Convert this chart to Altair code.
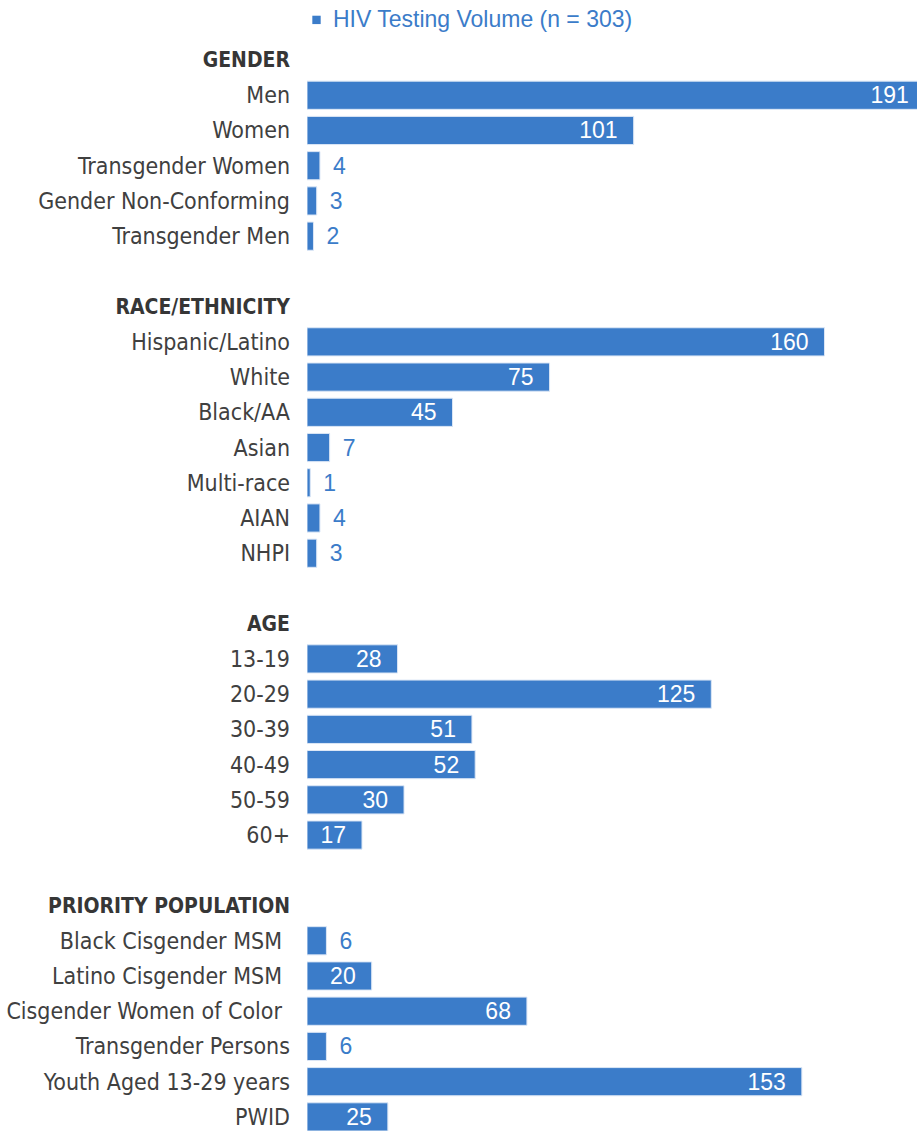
import altair as alt
import pandas as pd

# ---- data ----
gender_labels = ["Men", "Women", "Transgender Women", "Gender Non-Conforming", "Transgender Men"]
gender_values = [191, 101, 4, 3, 2]
race_labels = ["Hispanic/Latino", "White", "Black/AA", "Asian", "Multi-race", "AIAN", "NHPI"]
race_values = [160, 75, 45, 7, 1, 4, 3]
age_labels = ["13-19", "20-29", "30-39", "40-49", "50-59", "60+"]
age_values = [28, 125, 51, 52, 30, 17]
prio_labels = ["Black Cisgender MSM\u00a0", "Latino Cisgender MSM\u00a0",
               "Cisgender Women of Color\u00a0", "Transgender Persons",
               "Youth Aged 13-29 years", "PWID"]
prio_values = [6, 20, 68, 6, 153, 25]
section_headers = ["GENDER", "RACE/ETHNICITY", "AGE", "PRIORITY POPULATION"]
series_name = "HIV Testing Volume (n = 303)"

sections = [
    (section_headers[0], gender_labels, gender_values),
    (section_headers[1], race_labels, race_values),
    (section_headers[2], age_labels, age_values),
    (section_headers[3], prio_labels, prio_values),
]

rows = []
for si, (head, labs, vals) in enumerate(sections):
    rows.append({"label": head, "value": None, "kind": "header"})
    for l, v in zip(labs, vals):
        rows.append({"label": l, "value": v, "kind": "item"})
    if si < len(sections) - 1:
        rows.append({"label": "", "value": None, "kind": "blank"})
for i, r in enumerate(rows):
    r["row"] = f"r{i:02d}"
    r["series"] = series_name
df = pd.DataFrame(rows)
order = list(df["row"])

BLUE = "#3b7cc9"
GRAY = "#404040"
STEP = 35.23
N = len(order)
LABEL_FONT = "Liberation Sans Narrow, DejaVu Sans Condensed, Roboto"
NBSP = "\u00a0"

y_enc = alt.Y("row:N", sort=order, axis=None,
              scale=alt.Scale(domain=order, paddingInner=0.2, paddingOuter=0.1))
x_scale = alt.Scale(domain=[0, 188.6], nice=False, zero=True)

base = alt.Chart(df)

bars = base.transform_filter("datum.kind == 'item'").mark_bar(
    clip=True, stroke="#dce7f6", strokeWidth=1
).encode(
    x=alt.X("value:Q", scale=x_scale, axis=None),
    y=y_enc,
    color=alt.Color("series:N", scale=alt.Scale(range=[BLUE]),
                    legend=alt.Legend(orient="none", legendX=-2, legendY=-34,
                                      title=None, symbolType="square",
                                      symbolSize=70, symbolStrokeWidth=0,
                                      labelFont="Liberation Sans",
                                      labelFontSize=23, labelColor=BLUE,
                                      labelOffset=5, labelLimit=400)),
)

inside = base.transform_filter("datum.kind == 'item' && datum.value >= 10").mark_text(
    align="right", baseline="middle", dx=-16, dy=1, color="white",
    font="Liberation Sans", fontSize=23
).encode(x=alt.X("value:Q", scale=x_scale), y=y_enc, text="value:Q")

outside = base.transform_filter("datum.kind == 'item' && datum.value < 10").mark_text(
    align="left", baseline="middle", dx=13, dy=1, color=BLUE,
    font="Liberation Sans", fontSize=23
).encode(x=alt.X("value:Q", scale=x_scale), y=y_enc, text="value:Q")

item_labels = base.transform_filter(
    f"datum.kind == 'item' && indexof(datum.label, '{NBSP}') < 0"
).mark_text(
    align="right", baseline="middle", dy=1, color=GRAY,
    font=LABEL_FONT, fontSize=23
).encode(x=alt.value(-17), y=y_enc, text="label:N")

item_labels_pad = base.transform_filter(
    f"datum.kind == 'item' && indexof(datum.label, '{NBSP}') >= 0"
).mark_text(
    align="right", baseline="middle", dy=1, color=GRAY,
    font=LABEL_FONT, fontSize=23
).encode(x=alt.value(-25), y=y_enc, text="label:N")

header_labels = base.transform_filter("datum.kind == 'header'").mark_text(
    align="right", baseline="middle", dy=1, color="#363636",
    font=LABEL_FONT, fontSize=21, fontWeight="bold"
).encode(x=alt.value(-17), y=y_enc, text="label:N")

chart = alt.layer(bars, inside, outside, item_labels, item_labels_pad, header_labels).properties(
    width=610, height=STEP * N,
    autosize=alt.AutoSizeParams(type="none"),
    padding={"left": 307, "top": 42.4, "right": 0, "bottom": 0},
).configure_view(stroke=None)

chart.save("out.html", embed_options={"renderer": "svg", "actions": False})
